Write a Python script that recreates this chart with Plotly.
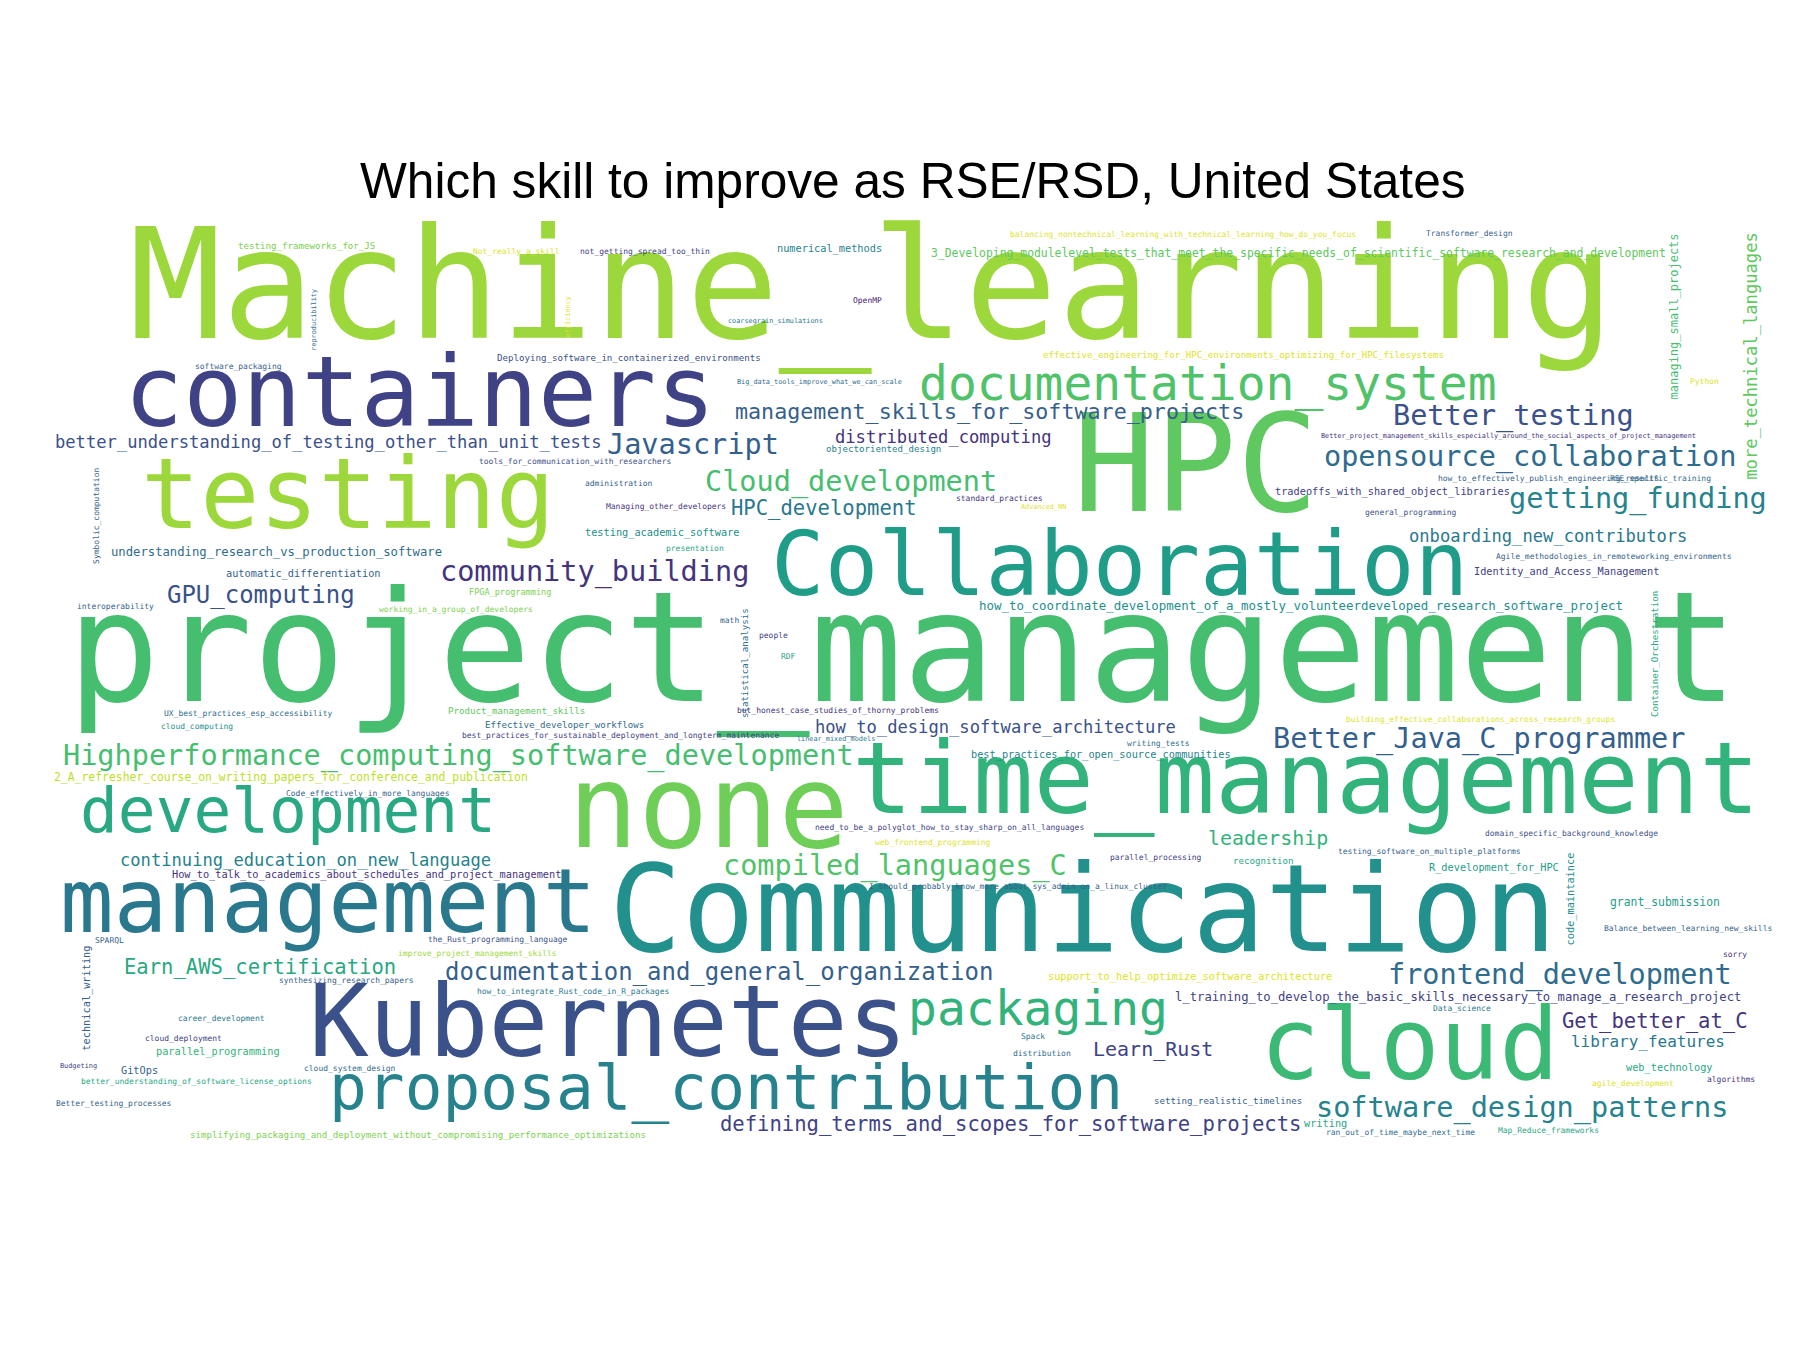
import plotly.graph_objects as go
from plotly.colors import sample_colorscale

# word cloud: word, centre x, centre y (in 1560x1170 picture units), font size, rotation, viridis tone
words = ["Machine_learning", "project_management", "HPC", "Communication", "Kubernetes", "none",
         "time_management", "cloud", "Collaboration", "containers", "testing", "management",
         "development", "documentation_system", "proposal_contribution", "packaging",
         "Highperformance_computing_software_development", "compiled_languages_C", "Javascript",
         "Better_testing", "opensource_collaboration", "getting_funding", "Cloud_development",
         "community_building", "GPU_computing", "frontend_development", "software_design_patterns",
         "Better_Java_C_programmer", "documentation_and_general_organization",
         "defining_terms_and_scopes_for_software_projects", "management_skills_for_software_projects",
         "better_understanding_of_testing_other_than_unit_tests", "HPC_development",
         "distributed_computing", "how_to_design_software_architecture", "onboarding_new_contributors",
         "leadership", "Earn_AWS_certification", "continuing_education_on_new_language",
         "Get_better_at_C", "library_features", "Learn_Rust",
         "understanding_research_vs_production_software", "more_technical_languages",
         "managing_small_projects",
         "3_Developing_modulelevel_tests_that_meet_the_specific_needs_of_scientific_software_research_and_development",
         "l_training_to_develop_the_basic_skills_necessary_to_manage_a_research_project",
         "how_to_coordinate_development_of_a_mostly_volunteerdeveloped_research_software_project",
         "tradeoffs_with_shared_object_libraries", "Deploying_software_in_containerized_environments",
         "numerical_methods", "Identity_and_Access_Management", "testing_academic_software",
         "automatic_differentiation", "FPGA_programming", "parallel_programming", "GitOps",
         "cloud_deployment", "career_development", "Better_testing_processes",
         "simplifying_packaging_and_deployment_without_compromising_performance_optimizations",
         "better_understanding_of_software_license_options",
         "2_A_refresher_course_on_writing_papers_for_conference_and_publication",
         "How_to_talk_to_academics_about_schedules_and_project_management",
         "best_practices_for_open_source_communities",
         "best_practices_for_sustainable_deployment_and_longterm_maintenance",
         "Effective_developer_workflows",
         "I_should_probably_know_more_about_sys_admin_on_a_linux_cluster", "grant_submission",
         "R_development_for_HPC", "the_Rust_programming_language", "improve_project_management_skills",
         "synthesizing_research_papers", "how_to_integrate_Rust_code_in_R_packages", "cloud_system_design",
         "support_to_help_optimize_software_architecture", "setting_realistic_timelines",
         "ran_out_of_time_maybe_next_time", "writing", "Map_Reduce_frameworks", "algorithms",
         "web_technology", "need_to_be_a_polyglot_how_to_stay_sharp_on_all_languages",
         "web_frontend_programming", "parallel_processing", "recognition",
         "testing_software_on_multiple_platforms", "domain_specific_background_knowledge",
         "Code_effectively_in_more_languages", "but_honest_case_studies_of_thorny_problems",
         "Product_management_skills", "UX_best_practices_esp_accessibility",
         "working_in_a_group_of_developers", "interoperability", "Symbolic_computation",
         "statistical_analysis", "Container_Orchestration", "code_maintaince", "technical_writing",
         "presentation", "administration", "Managing_other_developers",
         "tools_for_communication_with_researchers", "objectoriented_design", "standard_practices",
         "Advanced_NN", "general_programming", "Agile_methodologies_in_remoteworking_environments",
         "software_packaging", "testing_frameworks_for_JS", "Not_really_a_skill",
         "not_getting_spread_too_thin",
         "effective_engineering_for_HPC_environments_optimizing_for_HPC_filesystems",
         "Transformer_design",
         "balancing_nontechnical_learning_with_technical_learning_how_do_you_focus", "OpenMP",
         "Spack", "distribution", "Python",
         "Better_project_management_skills_especially_around_the_social_aspects_of_project_management",
         "how_to_effectively_publish_engineering_results", "RSE_specific_training", "cloud_computing",
         "writing_tests", "linear_mixed_models", "Balance_between_learning_new_skills", "sorry",
         "agile_development", "Budgeting", "SPARQL", "Data_science",
         "building_effective_collaborations_across_research_groups", "efficiency", "reproducibility",
         "math", "people", "RDF", "Big_data_tools_improve_what_we_can_scale", "coarsegrain_simulations"]
word_x = [748, 775, 1030, 932, 520, 607, 1125, 1215, 963, 357, 295, 277, 243, 1040, 622, 893,
          390, 769, 594, 1305, 1319, 1413, 731, 508, 219, 1345, 1312, 1275, 616, 869, 851, 277, 707,
          811, 856, 1335, 1092, 218, 258, 1427, 1421, 992, 233, 1512, 1445, 1118, 1257, 1121, 1200,
          538, 712, 1351, 567, 256, 435, 182, 114, 152, 185, 92, 355, 163, 245, 311, 947, 531, 482,
          875, 1436, 1288, 425, 407, 293, 490, 296, 1024, 1057, 1207, 1142, 1335, 1493, 1440, 816,
          802, 995, 1088, 1232, 1355, 312, 719, 441, 208, 388, 93, 77, 640, 1428, 1355, 68, 595,
          529, 570, 491, 759, 859, 897, 1216, 1392, 200, 259, 441, 552, 1071, 1267, 1018, 745, 888,
          896, 1470, 1300, 1335, 1432, 164, 997, 718, 1456, 1497, 1408, 61, 88, 1260, 1276, 486,
          265, 625, 663, 676, 703, 665]
word_y = [250, 565, 405, 790, 885, 700, 675, 905, 488, 340, 428, 780, 700, 328, 940, 870, 650,
          745, 380, 355, 391, 427, 412, 490, 510, 840, 955, 635, 837, 969, 351, 377, 435, 373, 624,
          459, 721, 833, 740, 879, 897, 904, 472, 302, 267, 213, 858, 519, 420, 304, 209, 489, 455,
          491, 507, 905, 921, 894, 876, 950, 977, 931, 667, 752, 648, 631, 622, 762, 776, 746, 808,
          820, 843, 853, 920, 840, 948, 975, 967, 973, 929, 919, 711, 724, 737, 740, 732, 716, 681,
          609, 610, 612, 522, 519, 440, 568, 560, 772, 858, 469, 413, 433, 394, 383, 426, 433, 438,
          476, 311, 207, 212, 212, 301, 196, 197, 254, 892, 907, 324, 371, 408, 408, 623, 638, 634,
          798, 821, 933, 917, 809, 868, 617, 268, 270, 531, 544, 563, 325, 272]
word_size = [135, 135, 119, 106, 87, 102, 88, 87, 78, 86, 86, 78, 55, 42, 55, 42, 25, 25, 25, 25,
             25, 25, 25, 25, 21, 25, 25, 25, 21, 18, 19, 15, 18, 15, 15, 15, 17.5, 18, 15, 18, 14,
             17.5, 10.7, 15, 10.5, 10, 10.7, 10.9, 9, 8, 9, 9, 9, 9, 7.5, 9, 9, 7, 7, 7, 8, 7, 10, 9,
             9, 7, 8, 7, 10, 9, 7, 7, 7, 7, 7, 9, 8, 7, 9, 7, 7, 9, 7, 7, 7, 8, 7, 7, 7, 7, 8, 7, 7,
             7, 7, 8, 8, 9, 9, 7, 7, 7, 7, 8, 7, 6, 7, 7, 7, 8, 7, 7, 8, 7, 7, 7, 7, 7, 7, 6, 7, 7, 7,
             7, 6, 7, 7, 7, 6, 7, 7, 7, 6, 6, 7, 7, 7, 6, 6]
vertical = {"more_technical_languages", "managing_small_projects", "Symbolic_computation",
            "statistical_analysis", "Container_Orchestration", "code_maintaince", "technical_writing",
            "efficiency", "reproducibility"}
word_tone = [0.85, 0.7, 0.75, 0.5, 0.25, 0.78, 0.65, 0.68, 0.55, 0.2, 0.85, 0.4, 0.6, 0.72, 0.45,
             0.65, 0.7, 0.72, 0.3, 0.25, 0.35, 0.45, 0.7, 0.15, 0.25, 0.35, 0.45, 0.3, 0.3, 0.2, 0.3,
             0.25, 0.4, 0.15, 0.25, 0.4, 0.65, 0.6, 0.45, 0.15, 0.4, 0.2, 0.35, 0.75, 0.7, 0.75,
             0.2, 0.5, 0.2, 0.25, 0.45, 0.2, 0.5, 0.3, 0.8, 0.65, 0.3, 0.2, 0.4, 0.3, 0.8, 0.6, 0.9,
             0.15, 0.45, 0.2, 0.35, 0.3, 0.55, 0.55, 0.25, 0.85, 0.3, 0.4, 0.35, 0.95, 0.3, 0.35,
             0.6, 0.6, 0.15, 0.6, 0.2, 0.95, 0.2, 0.6, 0.3, 0.25, 0.3, 0.15, 0.75, 0.35, 0.8, 0.3,
             0.3, 0.35, 0.6, 0.5, 0.3, 0.6, 0.3, 0.15, 0.25, 0.45, 0.15, 0.95, 0.25, 0.3, 0.3, 0.8,
             0.95, 0.2, 0.95, 0.3, 0.95, 0.1, 0.4, 0.35, 0.95, 0.15, 0.3, 0.35, 0.5, 0.35, 0.4, 0.3,
             0.15, 0.95, 0.2, 0.3, 0.4, 0.95, 0.95, 0.35, 0.3, 0.2, 0.55, 0.35, 0.4]

title = "Which skill to improve as RSE/RSD, United States"

W, H = 1560, 1170
k = 1800 / W
colors = sample_colorscale("Viridis", word_tone)

fig = go.Figure()
fig.add_trace(go.Scatter(x=[0, W], y=[0, H], mode="markers", marker=dict(opacity=0),
                         hoverinfo="skip", showlegend=False))
for w, x, y, s, c in zip(words, word_x, word_y, word_size, colors):
    rot = w in vertical
    # annotation boxes include descender room, so nudge up to match the visual centre
    fig.add_annotation(x=x - (0.08 * s if rot else 0), y=y - (0 if rot else 0.08 * s),
                       text=w, showarrow=False, xanchor="center", yanchor="middle",
                       textangle=-90 if rot else 0,
                       font=dict(family="DejaVu Sans Mono", size=s * k * 0.99, color=c))
fig.add_annotation(x=784, y=150, text=title, showarrow=False,
                   font=dict(family="Liberation Sans", size=43 * k, color="black"))

fig.update_xaxes(range=[0, W], visible=False)
fig.update_yaxes(range=[H, 0], visible=False)
fig.update_layout(width=1800, height=1350, margin=dict(l=0, r=0, t=0, b=0),
                  plot_bgcolor="white", paper_bgcolor="white")
fig.write_html("out.html")
